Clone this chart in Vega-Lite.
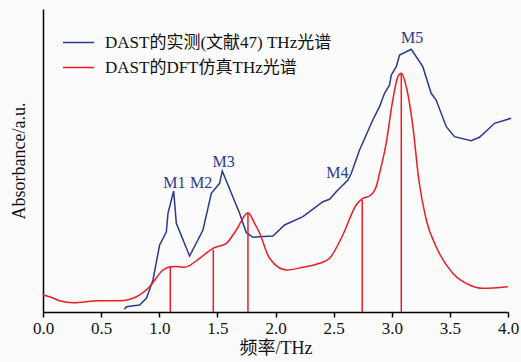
{
  "$schema": "https://vega.github.io/schema/vega-lite/v6.json",
  "width": 465,
  "height": 303,
  "autosize": {"type": "none"},
  "padding": {"left": 43, "top": 9, "right": 13, "bottom": 50},
  "background": "#fbfbfb",
  "config": {
    "view": {"stroke": null},
    "font": "'Liberation Serif', 'Noto Sans CJK SC', serif",
    "axis": {"labelFont": "'Liberation Serif', 'Noto Sans CJK SC', serif", "titleFont": "'Liberation Serif', 'Noto Sans CJK SC', serif", "titleFontWeight": "normal"},
    "legend": {"labelFont": "'Liberation Serif', 'Noto Sans CJK SC', serif"}
  },
  "datasets": {
    "curves": [
      {"series": "DAST的实测(文献47) THz光谱", "f": 0.70, "v": 2.7},
      {"series": "DAST的实测(文献47) THz光谱", "f": 0.717, "v": 5.3},
      {"series": "DAST的实测(文献47) THz光谱", "f": 0.83, "v": 7},
      {"series": "DAST的实测(文献47) THz光谱", "f": 0.89, "v": 13.7},
      {"series": "DAST的实测(文献47) THz光谱", "f": 0.946, "v": 32},
      {"series": "DAST的实测(文献47) THz光谱", "f": 1.003, "v": 67},
      {"series": "DAST的实测(文献47) THz光谱", "f": 1.061, "v": 80},
      {"series": "DAST的实测(文献47) THz光谱", "f": 1.075, "v": 98.7},
      {"series": "DAST的实测(文献47) THz光谱", "f": 1.124, "v": 121},
      {"series": "DAST的实测(文献47) THz光谱", "f": 1.147, "v": 88.7},
      {"series": "DAST的实测(文献47) THz光谱", "f": 1.261, "v": 56},
      {"series": "DAST的实测(文献47) THz光谱", "f": 1.376, "v": 82},
      {"series": "DAST的实测(文献47) THz光谱", "f": 1.448, "v": 118.7},
      {"series": "DAST的实测(文献47) THz光谱", "f": 1.519, "v": 128.7},
      {"series": "DAST的实测(文献47) THz光谱", "f": 1.542, "v": 141},
      {"series": "DAST的实测(文献47) THz光谱", "f": 1.691, "v": 98.7},
      {"series": "DAST的实测(文献47) THz光谱", "f": 1.749, "v": 79.3},
      {"series": "DAST的实测(文献47) THz光谱", "f": 1.806, "v": 74.7},
      {"series": "DAST的实测(文献47) THz光谱", "f": 1.863, "v": 75.3},
      {"series": "DAST的实测(文献47) THz光谱", "f": 1.978, "v": 76},
      {"series": "DAST的实测(文献47) THz光谱", "f": 2.078, "v": 87},
      {"series": "DAST的实测(文献47) THz光谱", "f": 2.236, "v": 95.3},
      {"series": "DAST的实测(文献47) THz光谱", "f": 2.408, "v": 110.3},
      {"series": "DAST的实测(文献47) THz光谱", "f": 2.465, "v": 112.7},
      {"series": "DAST的实测(文献47) THz光谱", "f": 2.522, "v": 120.3},
      {"series": "DAST的实测(文献47) THz光谱", "f": 2.623, "v": 132},
      {"series": "DAST的实测(文献47) THz光谱", "f": 2.65, "v": 138},
      {"series": "DAST的实测(文献47) THz光谱", "f": 2.723, "v": 162},
      {"series": "DAST的实测(文献47) THz光谱", "f": 2.837, "v": 192},
      {"series": "DAST的实测(文献47) THz光谱", "f": 2.895, "v": 205.3},
      {"series": "DAST的实测(文献47) THz光谱", "f": 2.938, "v": 218.7},
      {"series": "DAST的实测(文献47) THz光谱", "f": 2.981, "v": 227},
      {"series": "DAST的实测(文献47) THz光谱", "f": 2.996, "v": 237},
      {"series": "DAST的实测(文献47) THz光谱", "f": 3.039, "v": 245.3},
      {"series": "DAST的实测(文献47) THz光谱", "f": 3.067, "v": 257},
      {"series": "DAST的实测(文献47) THz光谱", "f": 3.168, "v": 262.7},
      {"series": "DAST的实测(文献47) THz光谱", "f": 3.267, "v": 245.3},
      {"series": "DAST的实测(文献47) THz光谱", "f": 3.339, "v": 218.7},
      {"series": "DAST的实测(文献47) THz光谱", "f": 3.382, "v": 212},
      {"series": "DAST的实测(文献47) THz光谱", "f": 3.469, "v": 185.3},
      {"series": "DAST的实测(文献47) THz光谱", "f": 3.540, "v": 175.3},
      {"series": "DAST的实测(文献47) THz光谱", "f": 3.683, "v": 171.3},
      {"series": "DAST的实测(文献47) THz光谱", "f": 3.755, "v": 174.7},
      {"series": "DAST的实测(文献47) THz光谱", "f": 3.884, "v": 188.7},
      {"series": "DAST的实测(文献47) THz光谱", "f": 4.027, "v": 193.7},
      {"series": "DAST的DFT仿真THz光谱", "f": 0, "v": 17},
      {"series": "DAST的DFT仿真THz光谱", "f": 0.057, "v": 15.3},
      {"series": "DAST的DFT仿真THz光谱", "f": 0.15, "v": 11},
      {"series": "DAST的DFT仿真THz光谱", "f": 0.258, "v": 9.3},
      {"series": "DAST的DFT仿真THz光谱", "f": 0.487, "v": 11.3},
      {"series": "DAST的DFT仿真THz光谱", "f": 0.66, "v": 11.3},
      {"series": "DAST的DFT仿真THz光谱", "f": 0.803, "v": 15.3},
      {"series": "DAST的DFT仿真THz光谱", "f": 0.917, "v": 25.3},
      {"series": "DAST的DFT仿真THz光谱", "f": 1.032, "v": 42},
      {"series": "DAST的DFT仿真THz光谱", "f": 1.095, "v": 45.3},
      {"series": "DAST的DFT仿真THz光谱", "f": 1.15, "v": 45.5},
      {"series": "DAST的DFT仿真THz光谱", "f": 1.218, "v": 44.7},
      {"series": "DAST的DFT仿真THz光谱", "f": 1.347, "v": 53.7},
      {"series": "DAST的DFT仿真THz光谱", "f": 1.462, "v": 63.7},
      {"series": "DAST的DFT仿真THz光谱", "f": 1.577, "v": 68.7},
      {"series": "DAST的DFT仿真THz光谱", "f": 1.663, "v": 82},
      {"series": "DAST的DFT仿真THz光谱", "f": 1.763, "v": 99.3},
      {"series": "DAST的DFT仿真THz光谱", "f": 1.820, "v": 88.7},
      {"series": "DAST的DFT仿真THz光谱", "f": 1.863, "v": 79},
      {"series": "DAST的DFT仿真THz光谱", "f": 1.949, "v": 53.7},
      {"series": "DAST的DFT仿真THz光谱", "f": 2.093, "v": 42},
      {"series": "DAST的DFT仿真THz光谱", "f": 2.236, "v": 44.7},
      {"series": "DAST的DFT仿真THz光谱", "f": 2.379, "v": 48.7},
      {"series": "DAST的DFT仿真THz光谱", "f": 2.465, "v": 53.7},
      {"series": "DAST的DFT仿真THz光谱", "f": 2.579, "v": 77},
      {"series": "DAST的DFT仿真THz光谱", "f": 2.694, "v": 107},
      {"series": "DAST的DFT仿真THz光谱", "f": 2.751, "v": 113.7},
      {"series": "DAST的DFT仿真THz光谱", "f": 2.809, "v": 116},
      {"series": "DAST的DFT仿真THz光谱", "f": 2.866, "v": 125.3},
      {"series": "DAST的DFT仿真THz光谱", "f": 2.895, "v": 138.7},
      {"series": "DAST的DFT仿真THz光谱", "f": 2.952, "v": 168.7},
      {"series": "DAST的DFT仿真THz光谱", "f": 3.009, "v": 212},
      {"series": "DAST的DFT仿真THz光谱", "f": 3.053, "v": 235.3},
      {"series": "DAST的DFT仿真THz光谱", "f": 3.082, "v": 238.7},
      {"series": "DAST的DFT仿真THz光谱", "f": 3.125, "v": 225.3},
      {"series": "DAST的DFT仿真THz光谱", "f": 3.182, "v": 185.3},
      {"series": "DAST的DFT仿真THz光谱", "f": 3.233, "v": 132},
      {"series": "DAST的DFT仿真THz光谱", "f": 3.297, "v": 92},
      {"series": "DAST的DFT仿真THz光谱", "f": 3.382, "v": 65.3},
      {"series": "DAST的DFT仿真THz光谱", "f": 3.525, "v": 38.7},
      {"series": "DAST的DFT仿真THz光谱", "f": 3.669, "v": 27},
      {"series": "DAST的DFT仿真THz光谱", "f": 3.783, "v": 23.7},
      {"series": "DAST的DFT仿真THz光谱", "f": 3.998, "v": 25.3}
    ],
    "rules": [
      {"f": 1.095, "top": 45},
      {"f": 1.465, "top": 62},
      {"f": 1.763, "top": 99},
      {"f": 2.746, "top": 112},
      {"f": 3.082, "top": 238}
    ],
    "labels": [
      {"label": "M1", "f": 1.13, "v": 129},
      {"label": "M2", "f": 1.36, "v": 129},
      {"label": "M3", "f": 1.554, "v": 150},
      {"label": "M4", "f": 2.533, "v": 139},
      {"label": "M5", "f": 3.176, "v": 274}
    ]
  },
  "encoding": {
    "x": {
      "field": "f", "type": "quantitative",
      "scale": {"domain": [0, 4], "nice": false, "zero": false},
      "axis": {
        "title": "频率/THz", "titleFontSize": 18, "titleColor": "#111", "titlePadding": 3,
        "titleFont": "'Liberation Serif', 'Noto Sans CJK SC', serif",
        "labelFont": "'Liberation Serif', serif",
        "values": [0, 0.5, 1, 1.5, 2, 2.5, 3, 3.5, 4], "format": ".1f",
        "labelFontSize": 17, "labelColor": "#111", "labelPadding": 3,
        "tickSize": 5, "tickColor": "#000", "domainColor": "#000", "domainWidth": 1.5, "tickWidth": 1.5,
        "grid": false, "labelFlush": false
      }
    }
  },
  "layer": [
    {
      "data": {"name": "curves"},
      "transform": [{"filter": "datum.series === 'DAST的实测(文献47) THz光谱'"}],
      "mark": {"type": "line", "strokeWidth": 1.5},
      "encoding": {
        "y": {
          "field": "v", "type": "quantitative",
          "scale": {"domain": [0, 303], "nice": false},
          "axis": {
            "title": "Absorbance/a.u.", "titleFontSize": 18, "titleColor": "#111", "titlePadding": 15,
            "titleFont": "'Liberation Serif', serif",
            "labels": false, "ticks": false, "grid": false, "domainColor": "#000", "domainWidth": 1.5
          }
        },
        "color": {
          "field": "series", "type": "nominal",
          "scale": {"domain": ["DAST的实测(文献47) THz光谱", "DAST的DFT仿真THz光谱"], "range": ["#2b3990", "#ed1c24"]},
          "legend": {
            "title": null, "orient": "none", "legendX": 19, "legendY": 17,
            "symbolType": "stroke", "symbolSize": 961, "symbolStrokeWidth": 1.5,
            "labelFont": "'Liberation Serif', 'Noto Sans CJK SC', serif",
            "labelFontSize": 17, "labelColor": "#111", "labelOffset": 10, "rowPadding": -1,
            "labelLimit": 400
          }
        },
        "order": {"field": "f", "type": "quantitative"}
      }
    },
    {
      "data": {"name": "curves"},
      "transform": [{"filter": "datum.series === 'DAST的DFT仿真THz光谱'"}],
      "mark": {"type": "line", "strokeWidth": 1.5, "interpolate": "monotone"},
      "encoding": {
        "y": {"field": "v", "type": "quantitative"},
        "color": {"field": "series", "type": "nominal"},
        "order": {"field": "f", "type": "quantitative"}
      }
    },
    {
      "data": {"name": "rules"},
      "mark": {"type": "rule", "color": "#ed1c24", "strokeWidth": 1.5},
      "encoding": {
        "y": {"field": "top", "type": "quantitative"},
        "y2": {"datum": 0}
      }
    },
    {
      "data": {"name": "labels"},
      "mark": {"type": "text", "color": "#2b3990", "fontSize": 16, "font": "'Liberation Serif', serif"},
      "encoding": {
        "y": {"field": "v", "type": "quantitative"},
        "text": {"field": "label"}
      }
    }
  ]
}
